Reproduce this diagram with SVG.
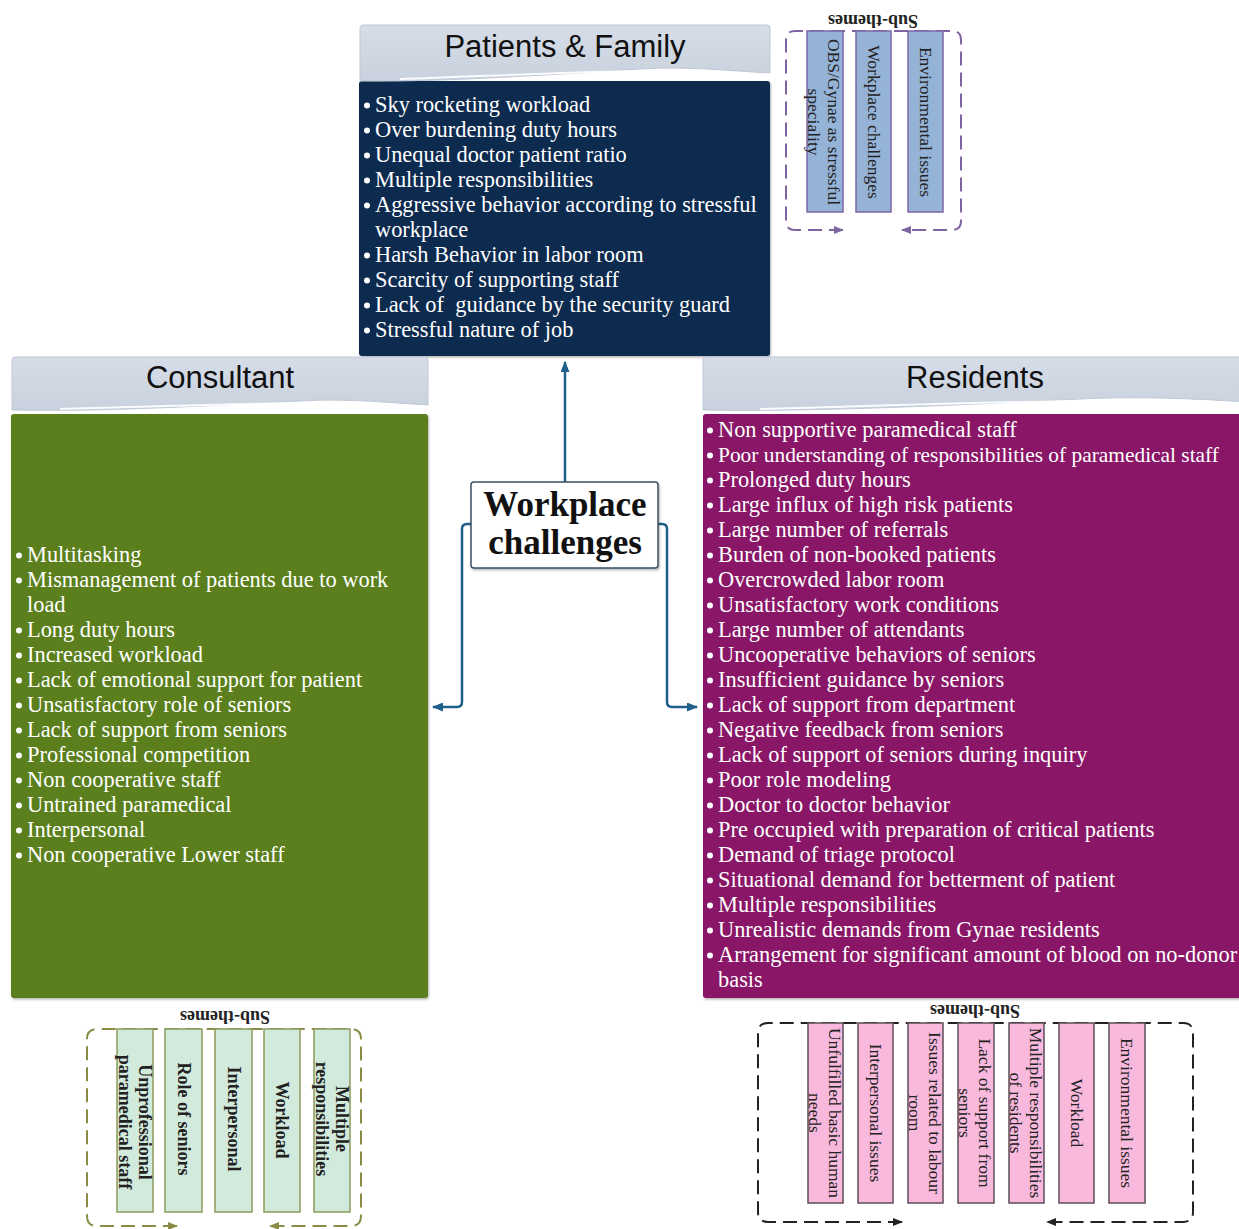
<svg xmlns="http://www.w3.org/2000/svg" width="1239" height="1229" viewBox="0 0 1239 1229">
<defs>
<style>
.hdr{fill:url(#hg);stroke:#bfc9d6;stroke-width:1}
.hl{fill:none;stroke:#fff;stroke-width:2;opacity:0.9}
.hdrT{font-family:"Liberation Sans",Arial,sans-serif;font-size:31px;fill:#111;text-anchor:middle}
.item{font-family:"Liberation Serif","Times New Roman",serif;font-size:22.4px;fill:#fff}
.bul{fill:#fff}
.conn{fill:none;stroke:#1f5f8a;stroke-width:2.5}
.sub{font-family:"Liberation Serif","Times New Roman",serif;font-size:18px;font-weight:bold;fill:#222;text-anchor:middle}
.vt{font-family:"Liberation Serif","Times New Roman",serif;font-size:17.5px;fill:#222;text-anchor:middle}
.vtb{font-family:"Liberation Serif","Times New Roman",serif;font-size:18px;font-weight:bold;fill:#222;text-anchor:middle}
.barB{fill:#95b3d7;stroke:#7c66a6;stroke-width:1.5}
.barG{fill:#d2eadb;stroke:#8c9a5c;stroke-width:1.5}
.barP{fill:#f8b9dd;stroke:#5c4d58;stroke-width:1.5}
.dP{fill:none;stroke:#8064a2;stroke-width:2;stroke-dasharray:14 7}
.dG{fill:none;stroke:#8a8c45;stroke-width:2;stroke-dasharray:14 7}
.dK{fill:none;stroke:#222;stroke-width:2;stroke-dasharray:14 7}
.center{font-family:"Liberation Serif","Times New Roman",serif;font-size:35px;font-weight:bold;fill:#111;text-anchor:middle}
</style>
<linearGradient id="hg" x1="0" y1="0" x2="0" y2="1">
<stop offset="0" stop-color="#d6dde8"/>
<stop offset="1" stop-color="#c8d1dd"/>
</linearGradient>
<filter id="sh" x="-5%" y="-5%" width="110%" height="110%">
<feDropShadow dx="1" dy="1.5" stdDeviation="1.2" flood-color="#000" flood-opacity="0.3"/>
</filter>
<marker id="ac" markerUnits="userSpaceOnUse" markerWidth="11" markerHeight="9" refX="10" refY="4.5" orient="auto">
<path d="M0,0 L11,4.5 L0,9 Z" fill="#1f5f8a"/>
</marker>
<marker id="aP" markerUnits="userSpaceOnUse" markerWidth="10" markerHeight="8" refX="9" refY="4" orient="auto-start-reverse">
<path d="M0,0 L10,4 L0,8 Z" fill="#8064a2"/>
</marker>
<marker id="aG" markerUnits="userSpaceOnUse" markerWidth="10" markerHeight="8" refX="9" refY="4" orient="auto-start-reverse">
<path d="M0,0 L10,4 L0,8 Z" fill="#8a8c45"/>
</marker>
<marker id="aK" markerUnits="userSpaceOnUse" markerWidth="10" markerHeight="8" refX="9" refY="4" orient="auto-start-reverse">
<path d="M0,0 L10,4 L0,8 Z" fill="#222"/>
</marker>
</defs>
<rect width="1239" height="1229" fill="#fff"/>

<g id="connectors">
<path class="conn" d="M565 482 V 362" marker-end="url(#ac)"/>
<path class="conn" d="M471 524 H467 Q462 524 462 529 V702 Q462 707 457 707 H433" marker-end="url(#ac)"/>
<path class="conn" d="M658 524 H662 Q667 524 667 529 V702 Q667 707 672 707 H697" marker-end="url(#ac)"/>
</g>

<g id="patients-family">
<rect x="359" y="81" width="411" height="275" rx="3" fill="#0f2a50" filter="url(#sh)"/>
<path class="hdr" d="M360 28 Q360 25 363 25 H767 Q770 25 770 28 V73 C730 71 690 66 640 69 C560 74 450 82 360 81 Z"/>
<path class="hl" d="M400 79 C470 77 560 72 640 71 C700 70 740 73 768 75"/>
<text class="hdrT" x="565" y="57">Patients &amp; Family</text>
<g class="bul">
<circle cx="367" cy="105.5" r="3"/><circle cx="367" cy="130.5" r="3"/><circle cx="367" cy="155.5" r="3"/><circle cx="367" cy="180.5" r="3"/><circle cx="367" cy="205.5" r="3"/><circle cx="367" cy="255.5" r="3"/><circle cx="367" cy="280.5" r="3"/><circle cx="367" cy="305.5" r="3"/><circle cx="367" cy="330.5" r="3"/>
</g>
<text class="item" xml:space="preserve"><tspan x="375" y="111.5">Sky rocketing workload</tspan><tspan x="375" y="136.5">Over burdening duty hours</tspan><tspan x="375" y="161.5">Unequal doctor patient ratio</tspan><tspan x="375" y="186.5">Multiple responsibilities</tspan><tspan x="375" y="211.5">Aggressive behavior according to stressful</tspan><tspan x="375" y="236.5">workplace</tspan><tspan x="375" y="261.5">Harsh Behavior in labor room</tspan><tspan x="375" y="286.5">Scarcity of supporting staff</tspan><tspan x="375" y="311.5">Lack of  guidance by the security guard</tspan><tspan x="375" y="336.5">Stressful nature of job</tspan></text>
</g>

<g id="consultant">
<rect x="11" y="414" width="417" height="584" rx="3" fill="#5a7f1f" filter="url(#sh)"/>
<path class="hdr" d="M12 360 Q12 357 15 357 H425 Q428 357 428 360 V405 C390 403 350 398 300 401 C220 405 110 412 12 410 Z"/>
<path class="hl" d="M60 409 C140 407 220 404 300 403 C360 401 400 405 426 407"/>
<text class="hdrT" x="220" y="388">Consultant</text>
<g class="bul">
<circle cx="19" cy="555.5" r="3"/><circle cx="19" cy="580.5" r="3"/><circle cx="19" cy="630.5" r="3"/><circle cx="19" cy="655.5" r="3"/><circle cx="19" cy="680.5" r="3"/><circle cx="19" cy="705.5" r="3"/><circle cx="19" cy="730.5" r="3"/><circle cx="19" cy="755.5" r="3"/><circle cx="19" cy="780.5" r="3"/><circle cx="19" cy="805.5" r="3"/><circle cx="19" cy="830.5" r="3"/><circle cx="19" cy="855.5" r="3"/>
</g>
<text class="item"><tspan x="27" y="561.5">Multitasking</tspan><tspan x="27" y="586.5">Mismanagement of patients due to work</tspan><tspan x="27" y="611.5">load</tspan><tspan x="27" y="636.5">Long duty hours</tspan><tspan x="27" y="661.5">Increased workload</tspan><tspan x="27" y="686.5">Lack of emotional support for patient</tspan><tspan x="27" y="711.5">Unsatisfactory role of seniors</tspan><tspan x="27" y="736.5">Lack of support from seniors</tspan><tspan x="27" y="761.5">Professional competition</tspan><tspan x="27" y="786.5">Non cooperative staff</tspan><tspan x="27" y="811.5">Untrained paramedical</tspan><tspan x="27" y="836.5">Interpersonal</tspan><tspan x="27" y="861.5">Non cooperative Lower staff</tspan></text>
</g>

<g id="residents">
<rect x="703" y="414" width="545" height="584" rx="3" fill="#891266" filter="url(#sh)"/>
<path class="hdr" d="M703 360 Q703 357 706 357 H1245 V402 C1200 399 1140 396 1080 399 C960 405 820 412 703 410 Z"/>
<path class="hl" d="M760 409 C870 406 980 402 1080 401 C1160 399 1210 401 1245 404"/>
<text class="hdrT" x="975" y="388">Residents</text>
<g class="bul">
<circle cx="710" cy="430.5" r="3"/><circle cx="710" cy="455.5" r="3"/><circle cx="710" cy="480.5" r="3"/><circle cx="710" cy="505.5" r="3"/><circle cx="710" cy="530.5" r="3"/><circle cx="710" cy="555.5" r="3"/><circle cx="710" cy="580.5" r="3"/><circle cx="710" cy="605.5" r="3"/><circle cx="710" cy="630.5" r="3"/><circle cx="710" cy="655.5" r="3"/><circle cx="710" cy="680.5" r="3"/><circle cx="710" cy="705.5" r="3"/><circle cx="710" cy="730.5" r="3"/><circle cx="710" cy="755.5" r="3"/><circle cx="710" cy="780.5" r="3"/><circle cx="710" cy="805.5" r="3"/><circle cx="710" cy="830.5" r="3"/><circle cx="710" cy="855.5" r="3"/><circle cx="710" cy="880.5" r="3"/><circle cx="710" cy="905.5" r="3"/><circle cx="710" cy="930.5" r="3"/><circle cx="710" cy="955.5" r="3"/>
</g>
<text class="item" x="718" y="461.5" style="font-size:21.4px">Poor understanding of responsibilities of paramedical staff</text>
<text class="item"><tspan x="718" y="436.5">Non supportive paramedical staff</tspan><tspan x="718" y="486.5">Prolonged duty hours</tspan><tspan x="718" y="511.5">Large influx of high risk patients</tspan><tspan x="718" y="536.5">Large number of referrals</tspan><tspan x="718" y="561.5">Burden of non-booked patients</tspan><tspan x="718" y="586.5">Overcrowded labor room</tspan><tspan x="718" y="611.5">Unsatisfactory work conditions</tspan><tspan x="718" y="636.5">Large number of attendants</tspan><tspan x="718" y="661.5">Uncooperative behaviors of seniors</tspan><tspan x="718" y="686.5">Insufficient guidance by seniors</tspan><tspan x="718" y="711.5">Lack of support from department</tspan><tspan x="718" y="736.5">Negative feedback from seniors</tspan><tspan x="718" y="761.5">Lack of support of seniors during inquiry</tspan><tspan x="718" y="786.5">Poor role modeling</tspan><tspan x="718" y="811.5">Doctor to doctor behavior</tspan><tspan x="718" y="836.5">Pre occupied with preparation of critical patients</tspan><tspan x="718" y="861.5">Demand of triage protocol</tspan><tspan x="718" y="886.5">Situational demand for betterment of patient</tspan><tspan x="718" y="911.5">Multiple responsibilities</tspan><tspan x="718" y="936.5">Unrealistic demands from Gynae residents</tspan><tspan x="718" y="961.5">Arrangement for significant amount of blood on no-donor</tspan><tspan x="718" y="986.5">basis</tspan></text>
</g>

<g id="workplace-challenges">
<rect x="471" y="482" width="187" height="86" rx="3" fill="#fff" stroke="#3b5266" stroke-width="1.5" filter="url(#sh)"/>
<text class="center"><tspan x="565" y="516">Workplace</tspan><tspan x="565" y="554">challenges</tspan></text>
</g>

<g id="subthemes-patients">
<path class="dP" d="M843 230 H795 Q786 230 786 221 V40 Q786 31 795 31 H952 Q961 31 961 40 V221 Q961 230 952 230 H902" marker-start="url(#aP)" marker-end="url(#aP)"/>
<text class="sub" x="873" y="27" transform="rotate(180 873 21)">Sub-themes</text>
<rect class="barB" x="807" y="31" width="36" height="181"/>
<rect class="barB" x="856" y="31" width="35" height="181"/>
<rect class="barB" x="908" y="31" width="35" height="181"/>
<g transform="translate(825 122) rotate(90)"><text class="vt"><tspan x="0" y="-3">OBS/Gynae as stressful</tspan><tspan x="0" y="17">speciality</tspan></text></g>
<g transform="translate(873.5 122) rotate(90)"><text class="vt" x="0" y="6">Workplace challenges</text></g>
<g transform="translate(925.5 122) rotate(90)"><text class="vt" x="0" y="6">Environmental issues</text></g>
</g>

<g id="subthemes-consultant">
<path class="dG" d="M177 1226 H97 Q87 1226 87 1216 V1039 Q87 1029 97 1029 H351 Q361 1029 361 1039 V1216 Q361 1226 351 1226 H270" marker-start="url(#aG)" marker-end="url(#aG)"/>
<text class="sub" x="225" y="1023" transform="rotate(180 225 1017)">Sub-themes</text>
<rect class="barG" x="117" y="1029" width="36" height="183"/>
<rect class="barG" x="165" y="1029" width="37" height="183"/>
<rect class="barG" x="215" y="1029" width="37" height="183"/>
<rect class="barG" x="264" y="1029" width="36" height="183"/>
<rect class="barG" x="314" y="1029" width="36" height="183"/>
<g transform="translate(135 1122) rotate(90)"><text class="vtb"><tspan x="0" y="-4">Unprofessional</tspan><tspan x="0" y="16">paramedical staff</tspan></text></g>
<g transform="translate(183.5 1119) rotate(90)"><text class="vtb" x="0" y="6">Role of seniors</text></g>
<g transform="translate(233.5 1119) rotate(90)"><text class="vtb" x="0" y="6">Interpersonal</text></g>
<g transform="translate(282 1120) rotate(90)"><text class="vtb" x="0" y="6">Workload</text></g>
<g transform="translate(332 1119) rotate(90)"><text class="vtb"><tspan x="0" y="-4">Multiple</tspan><tspan x="0" y="16">responsibilities</tspan></text></g>
</g>

<g id="subthemes-residents">
<path class="dK" d="M902 1222 H768 Q758 1222 758 1212 V1033 Q758 1023 768 1023 H1183 Q1193 1023 1193 1033 V1212 Q1193 1222 1183 1222 H1047" marker-start="url(#aK)" marker-end="url(#aK)"/>
<text class="sub" x="975" y="1017" transform="rotate(180 975 1011)">Sub-themes</text>
<rect class="barP" x="808" y="1023" width="35" height="180"/>
<rect class="barP" x="858" y="1023" width="35" height="180"/>
<rect class="barP" x="908" y="1023" width="35" height="180"/>
<rect class="barP" x="958" y="1023" width="36" height="180"/>
<rect class="barP" x="1009" y="1023" width="35" height="180"/>
<rect class="barP" x="1059" y="1023" width="35" height="180"/>
<rect class="barP" x="1109" y="1023" width="36" height="180"/>
<g transform="translate(825.5 1113) rotate(90)"><text class="vt"><tspan x="0" y="-3">Unfulfilled basic human</tspan><tspan x="0" y="17">needs</tspan></text></g>
<g transform="translate(875.5 1113) rotate(90)"><text class="vt" x="0" y="6">Interpersonal issues</text></g>
<g transform="translate(925.5 1113) rotate(90)"><text class="vt"><tspan x="0" y="-3">Issues related to labour</tspan><tspan x="0" y="17">room</tspan></text></g>
<g transform="translate(976 1113) rotate(90)"><text class="vt"><tspan x="0" y="-3">Lack of support from</tspan><tspan x="0" y="17">seniors</tspan></text></g>
<g transform="translate(1026.5 1113) rotate(90)"><text class="vt"><tspan x="0" y="-3">Multiple responsibilities</tspan><tspan x="0" y="17">of residents</tspan></text></g>
<g transform="translate(1076.5 1113) rotate(90)"><text class="vt" x="0" y="6">Workload</text></g>
<g transform="translate(1127 1113) rotate(90)"><text class="vt" x="0" y="6">Environmental issues</text></g>
</g>
</svg>
